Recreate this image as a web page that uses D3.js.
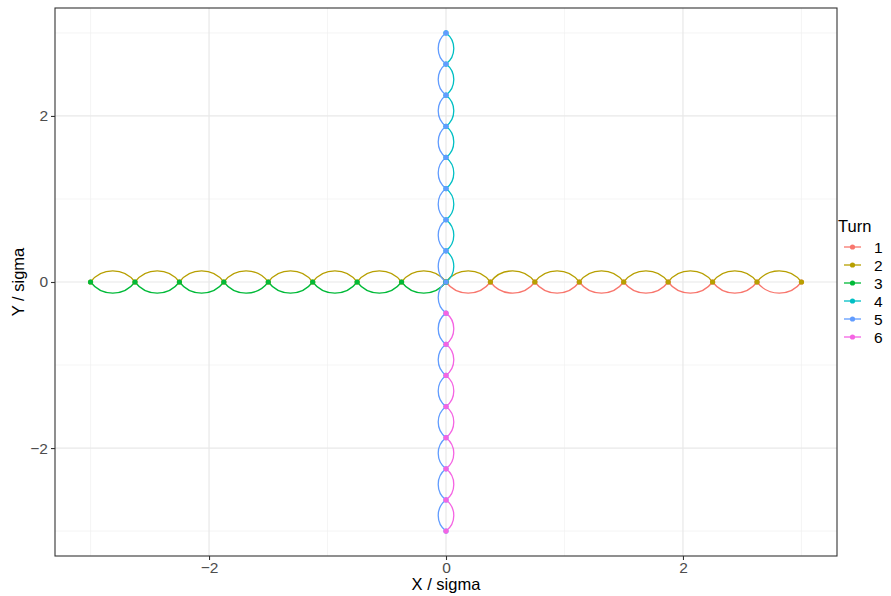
<!DOCTYPE html>
<html><head><meta charset="utf-8">
<script src="https://cdn.jsdelivr.net/npm/d3@7"></script>
<style>body{margin:0;background:#fff}svg{display:block;font-family:"Liberation Sans",Arial,sans-serif}</style>
</head><body><svg id="c" width="891" height="596"></svg>
<script>
// ---- data ----
const turns = ["1","2","3","4","5","6"];
const colors = ["#F8766D","#B79F00","#00BA38","#00BFC4","#619CFF","#F564E3"];
const turn1X = [0,0.375,0.75,1.125,1.5,1.875,2.25,2.625,3];
const turn1Y = [0,0,0,0,0,0,0,0,0];
const turn2X = [3,2.625,2.25,1.875,1.5,1.125,0.75,0.375,0,-0.375,-0.75,-1.125,-1.5,-1.875,-2.25,-2.625,-3];
const turn2Y = [0,0,0,0,0,0,0,0,0,0,0,0,0,0,0,0,0];
const turn3X = [-3,-2.625,-2.25,-1.875,-1.5,-1.125,-0.75,-0.375,0];
const turn3Y = [0,0,0,0,0,0,0,0,0];
const turn4X = [0,0,0,0,0,0,0,0,0];
const turn4Y = [0,0.375,0.75,1.125,1.5,1.875,2.25,2.625,3];
const turn5X = [0,0,0,0,0,0,0,0,0,0,0,0,0,0,0,0,0];
const turn5Y = [3,2.625,2.25,1.875,1.5,1.125,0.75,0.375,0,-0.375,-0.75,-1.125,-1.5,-1.875,-2.25,-2.625,-3];
const turn6X = [0,0,0,0,0,0,0,0];
const turn6Y = [-3,-2.625,-2.25,-1.875,-1.5,-1.125,-0.75,-0.375];
const xTicks = [-2,0,2];
const yTicks = [-2,0,2];
const xMinor = [-3,-1,1,3];
const yMinor = [-3,-1,1,3];

const turnData = [
  {turn:"1", xs:turn1X, ys:turn1Y},
  {turn:"2", xs:turn2X, ys:turn2Y},
  {turn:"3", xs:turn3X, ys:turn3Y},
  {turn:"4", xs:turn4X, ys:turn4Y},
  {turn:"5", xs:turn5X, ys:turn5Y},
  {turn:"6", xs:turn6X, ys:turn6Y}
];

// ---- layout ----
const L=55, R=837, T=8, B=556;
const svg = d3.select("#c");
const x = d3.scaleLinear().domain([-3.3,3.3]).range([L,R]);
const y = d3.scaleLinear().domain([-3.3,3.3]).range([B,T]);
const color = d3.scaleOrdinal().domain(turns).range(colors);

svg.append("rect").attr("x",L).attr("y",T).attr("width",R-L).attr("height",B-T).attr("fill","#fff");
const grid = svg.append("g");
xMinor.forEach(v=>grid.append("line").attr("x1",x(v)).attr("x2",x(v)).attr("y1",T).attr("y2",B).attr("stroke","#F0F0F0").attr("stroke-width",0.7));
yMinor.forEach(v=>grid.append("line").attr("y1",y(v)).attr("y2",y(v)).attr("x1",L).attr("x2",R).attr("stroke","#F0F0F0").attr("stroke-width",0.7));
xTicks.forEach(v=>grid.append("line").attr("x1",x(v)).attr("x2",x(v)).attr("y1",T).attr("y2",B).attr("stroke","#E8E8E8").attr("stroke-width",1.2));
yTicks.forEach(v=>grid.append("line").attr("y1",y(v)).attr("y2",y(v)).attr("x1",L).attr("x2",R).attr("stroke","#E8E8E8").attr("stroke-width",1.2));

// curves: circular arcs bulging to the right of travel direction
const ratio = 0.25;
const curves = svg.append("g").attr("fill","none").attr("stroke-width",1.3);
turnData.forEach(td=>{
  for(let i=0;i<td.xs.length-1;i++){
    const x0=x(td.xs[i]), y0=y(td.ys[i]), x1=x(td.xs[i+1]), y1=y(td.ys[i+1]);
    const c=Math.hypot(x1-x0,y1-y0), s=ratio*c;
    const r=(c*c/4+s*s)/(2*s);
    curves.append("path").attr("d",`M${x0},${y0}A${r},${r} 0 0 0 ${x1},${y1}`).attr("stroke",color(td.turn));
  }
});
const pts = svg.append("g");
turnData.forEach(td=>{
  td.xs.forEach((v,i)=>{
    pts.append("circle").attr("cx",x(v)).attr("cy",y(td.ys[i])).attr("r",2.6).attr("fill",color(td.turn));
  });
});

svg.append("rect").attr("x",L).attr("y",T).attr("width",R-L).attr("height",B-T).attr("fill","none").attr("stroke","#333").attr("stroke-width",1.1);

// axes
const fmt = d=>d<0?"\u2212"+Math.abs(d):d;
const xa = svg.append("g").attr("transform",`translate(0,${B})`).call(d3.axisBottom(x).tickValues(xTicks).tickSize(4).tickSizeOuter(0).tickFormat(fmt));
const ya = svg.append("g").attr("transform",`translate(${L},0)`).call(d3.axisLeft(y).tickValues(yTicks).tickSize(4).tickSizeOuter(0).tickFormat(fmt));
[xa,ya].forEach(a=>{a.select(".domain").remove();a.selectAll(".tick line").attr("stroke","#333").attr("stroke-width",1.1);a.selectAll("text").attr("fill","#4D4D4D").attr("font-size",15.5).attr("font-family","Liberation Sans, Arial, sans-serif");});
xa.selectAll("text").attr("dy","0.71em").attr("y",6);
ya.selectAll("text").attr("x",-7);

svg.append("text").attr("x",(L+R)/2).attr("y",590).attr("text-anchor","middle").attr("font-size",16.5).attr("fill","#000").text("X / sigma");
svg.append("text").attr("transform",`translate(24,${(T+B)/2}) rotate(-90)`).attr("text-anchor","middle").attr("font-size",16.5).attr("fill","#000").text("Y / sigma");

// legend
const lg = svg.append("g");
lg.append("text").attr("x",838).attr("y",232).attr("font-size",16.5).attr("fill","#000").text("Turn");
turns.forEach((t,i)=>{
  const cy = 247 + i*18;
  lg.append("line").attr("x1",844).attr("x2",861).attr("y1",cy).attr("y2",cy).attr("stroke",color(t)).attr("stroke-width",1.3);
  lg.append("circle").attr("cx",852.5).attr("cy",cy).attr("r",2.6).attr("fill",color(t));
  lg.append("text").attr("x",874).attr("y",cy).attr("dy","0.36em").attr("font-size",15.5).attr("fill","#000").text(t);
});
</script></body></html>
